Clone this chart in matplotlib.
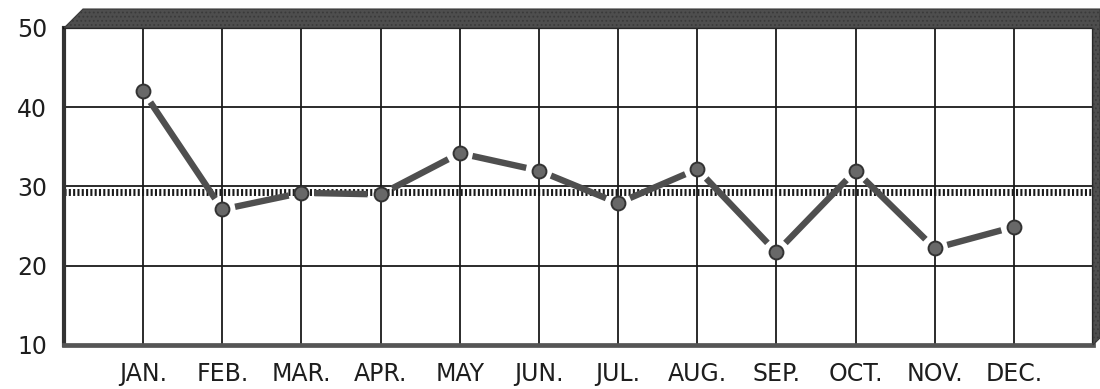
import matplotlib
matplotlib.use("Agg")
import matplotlib.pyplot as plt
from matplotlib.patches import Polygon
import numpy as np

# Monthly values
months = ["JAN.", "FEB.", "MAR.", "APR.", "MAY", "JUN.", "JUL.", "AUG.", "SEP.", "OCT.", "NOV.", "DEC."]
values = [42.0, 27.1, 29.2, 29.0, 34.2, 32.0, 27.9, 32.2, 21.7, 32.0, 22.2, 24.9]
average_level = 29.3
y_ticks = [10, 20, 30, 40, 50]
y_labels = ["10", "20", "30", "40", "50"]

plt.rcParams["hatch.color"] = "#808080"
plt.rcParams["hatch.linewidth"] = 0.8

W, H = 1100, 389
fig = plt.figure(figsize=(W / 100, H / 100), dpi=100)
fig.patch.set_facecolor("white")

# plot area in pixel coordinates
left_px, right_px, top_px, bottom_px = 64, 1093, 28, 345
ax = fig.add_axes([left_px / W, 1 - bottom_px / H,
                   (right_px - left_px) / W, (bottom_px - top_px) / H])

ax.set_xlim(0, 13)
ax.set_ylim(10, 50)
x = np.arange(1, len(months) + 1)

# grid
for xv in x:
    ax.axvline(xv, color="#1a1a1a", lw=1.3, zorder=1)
for yv in y_ticks[1:-1]:
    ax.axhline(yv, color="#1a1a1a", lw=1.3, zorder=1)

# dotted average line
ax.axhline(average_level, color="#1a1a1a", lw=5.0, zorder=2,
           linestyle=(0, (0.3, 0.32)), dash_capstyle="butt")

# connecting segments, shortened so they stop short of each marker
fig.canvas.draw()
gap_px = 13
pts = ax.transData.transform(np.column_stack([x, values]))
for p0, p1 in zip(pts[:-1], pts[1:]):
    d = p1 - p0
    u = d / np.hypot(*d)
    a = ax.transData.inverted().transform(p0 + u * gap_px)
    b = ax.transData.inverted().transform(p1 - u * gap_px)
    ax.plot([a[0], b[0]], [a[1], b[1]], color="#4f4f4f", lw=4.6,
            solid_capstyle="butt", zorder=3)

ax.plot(x, values, linestyle="none", marker="o", markersize=10,
        markerfacecolor="#686868", markeredgecolor="#333333",
        markeredgewidth=1.4, zorder=4)

# frame
for side in ["top", "right"]:
    ax.spines[side].set_color("#111111")
    ax.spines[side].set_linewidth(1.6)
ax.spines["left"].set_color("#333333")
ax.spines["left"].set_linewidth(3.0)
ax.spines["bottom"].set_color("#555555")
ax.spines["bottom"].set_linewidth(3.4)

ax.set_xticks(x)
ax.set_xticklabels(months)
ax.set_yticks(y_ticks)
ax.set_yticklabels(y_labels)
ax.tick_params(axis="both", length=0, colors="#1e1e1e")
ax.tick_params(axis="y", pad=12, labelsize=17)
ax.tick_params(axis="x", pad=12, labelsize=17)

# shaded top and right faces of the frame
def px(xp, yp):
    return (xp / W, 1 - yp / H)

shade = Polygon([px(64, 28), px(83, 9), px(1100, 9), px(1100, 338),
                 px(1093, 345), px(1093, 28)],
                closed=True, transform=fig.transFigure,
                facecolor="#4e4e4e", edgecolor="#3a3a3a", lw=0.8,
                hatch="....", zorder=0)
fig.patches.append(shade)

fig.savefig("out.png", dpi=100, facecolor="white")
